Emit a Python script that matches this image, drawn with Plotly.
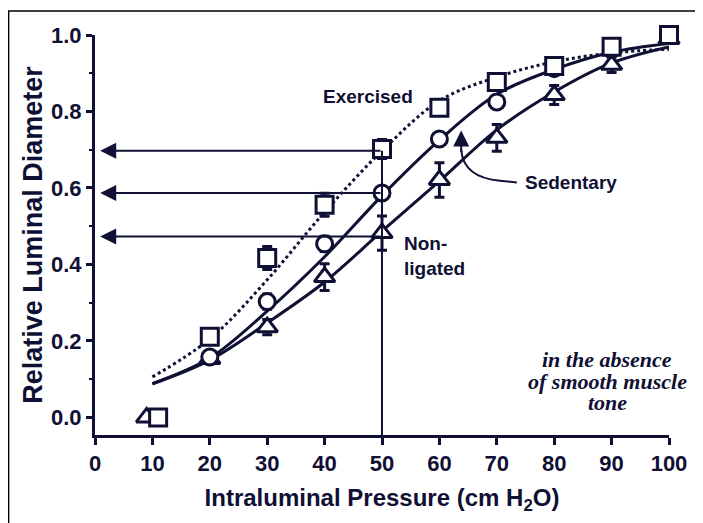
import plotly.graph_objects as go

# ---- data ----
pressure = [10, 20, 30, 40, 50, 60, 70, 80, 90, 100]

ex_x = [11, 20, 30, 40, 50, 60, 70, 80, 90, 100]
ex_y = [0.0, 0.211, 0.417, 0.556, 0.702, 0.81, 0.877, 0.919, 0.969, 1.0]
ex_err = [0.0, 0.01, 0.03, 0.03, 0.025, 0.02, 0.015, 0.015, 0.01, 0.01]

sed_x = [20, 30, 40, 50, 60, 70, 80, 90, 100]
sed_y = [0.158, 0.303, 0.454, 0.587, 0.728, 0.825, 0.912, 0.962, 1.0]
sed_err = [0.01, 0.02, 0.02, 0.015, 0.01, 0.01, 0.01, 0.01, 0.01]

nl_x = [9, 20, 30, 40, 50, 60, 70, 80, 90, 100]
nl_y = [0.0, 0.153, 0.236, 0.367, 0.482, 0.621, 0.731, 0.843, 0.922, 0.99]
nl_err = [0.0, 0.01, 0.02, 0.035, 0.045, 0.045, 0.035, 0.025, 0.02, 0.01]

# fitted curves
ex_fit = [0.106, 0.205, 0.36, 0.537, 0.697, 0.828, 0.89, 0.93, 0.953, 0.963]
sed_fit = [0.088, 0.155, 0.278, 0.42, 0.58, 0.725, 0.845, 0.91, 0.955, 0.978]
nl_fit = [0.088, 0.15, 0.247, 0.354, 0.487, 0.618, 0.752, 0.851, 0.927, 0.969]

arrow_levels = [0.697, 0.587, 0.473]

note_lines = ["in the absence", "of smooth muscle", "tone"]

INK = "#0f1033"
FONT = "Liberation Sans"

fig = go.Figure()

fig.add_trace(go.Scatter(x=pressure, y=ex_fit, mode="lines", line=dict(color=INK, width=3, dash="dot", shape="spline"),
                         hoverinfo="skip"))
fig.add_trace(go.Scatter(x=pressure, y=sed_fit, mode="lines", line=dict(color=INK, width=3, shape="spline"),
                         hoverinfo="skip"))
fig.add_trace(go.Scatter(x=pressure, y=nl_fit, mode="lines", line=dict(color=INK, width=3, shape="spline"),
                         hoverinfo="skip"))


def pts(x, y, err, symbol, size):
    return go.Scatter(
        x=x, y=y, mode="markers", cliponaxis=False,
        marker=dict(symbol=symbol, size=size, color="white", line=dict(color=INK, width=3)),
        error_y=dict(type="data", array=err, color=INK, thickness=3, width=5),
    )


fig.add_trace(pts(nl_x, nl_y, nl_err, "triangle-up", 18))
fig.add_trace(pts(sed_x, sed_y, sed_err, "circle", 16))
fig.add_trace(pts(ex_x, ex_y, ex_err, "square", 17))

# horizontal arrows to the y axis and vertical guide at 50 cm H2O
for lv in arrow_levels:
    fig.add_annotation(x=0.9, y=lv, ax=50, ay=lv, xref="x", yref="y", axref="x", ayref="y",
                       text="", showarrow=True, arrowhead=2, arrowsize=1.6, arrowwidth=2, arrowcolor=INK)
fig.add_shape(type="line", x0=50, x1=50, y0=-0.046, y1=arrow_levels[0], xref="x", yref="y",
              line=dict(color=INK, width=2))

# curved arrow for "Sedentary"
fig.add_shape(type="path", path="M 73.5,0.614 L 70.6,0.619 Q 64.2,0.627 63.8,0.70",
              xref="x", yref="y", line=dict(color=INK, width=2))
fig.add_annotation(x=63.8, y=0.75, ax=63.8, ay=0.69, xref="x", yref="y", axref="x", ayref="y",
                   text="", showarrow=True, arrowhead=2, arrowsize=1.6, arrowwidth=2, arrowcolor=INK)

bold = dict(family=FONT, size=19, color=INK, weight="bold")
fig.add_annotation(x=47.6, y=0.838, text="Exercised", showarrow=False, font=bold)
fig.add_annotation(x=74.6, y=0.614, text="Sedentary", showarrow=False, xanchor="left", font=bold)
fig.add_annotation(x=53.5, y=0.421, text="Non-<br>ligated", showarrow=False, xanchor="left", align="left", font=bold)
for txt, ny in zip(note_lines, [0.151, 0.094, 0.038]):
    fig.add_annotation(x=89.2, y=ny, text="<i>" + txt + "</i>", showarrow=False,
                       font=dict(family="Liberation Serif", size=22, color=INK, weight="bold"))

# outer frame (left/top visible only)
fig.add_shape(type="rect", xref="paper", yref="paper", x0=-0.1505, x1=1.3, y0=-0.5, y1=1.06,
              line=dict(color="black", width=1.5), layer="below")

fig.update_layout(
    width=703, height=523,
    margin=dict(l=87, r=42, t=27, b=96),
    paper_bgcolor="white", plot_bgcolor="white",
    showlegend=False,
    font=dict(family=FONT, color=INK),
)
fig.update_xaxes(
    range=[0, 100], dtick=10, showgrid=False, zeroline=False, automargin=False,
    showline=True, linecolor=INK, linewidth=3,
    ticks="outside", ticklen=7, tickwidth=2.5, tickcolor=INK,
    tickfont=dict(family=FONT, size=22, color=INK, weight="bold"),
    title=dict(text="Intraluminal Pressure (cm H<sub>2</sub>O)", standoff=14,
               font=dict(family=FONT, size=24, color=INK, weight="bold")),
)
fig.update_yaxes(
    range=[-0.046, 1.0], tickvals=[0, 0.2, 0.4, 0.6, 0.8, 1.0], tickformat=".1f",
    showgrid=False, zeroline=False, automargin=False,
    showline=True, linecolor=INK, linewidth=3,
    ticks="outside", ticklen=6, tickwidth=2.5, tickcolor=INK,
    minor=dict(tickvals=[0.1, 0.3, 0.5, 0.7, 0.9], ticks="outside", ticklen=3, tickwidth=2, tickcolor=INK),
    tickfont=dict(family=FONT, size=22, color=INK, weight="bold"),
    title=dict(text="Relative Luminal Diameter", standoff=1,
               font=dict(family=FONT, size=27, color=INK, weight="bold")),
)

fig.write_html("out.html")
